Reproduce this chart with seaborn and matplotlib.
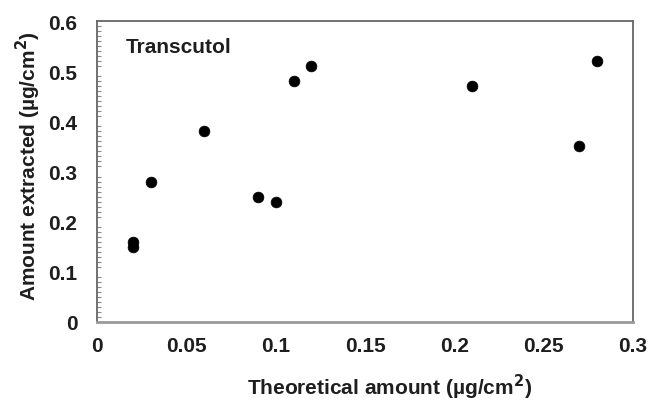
import matplotlib
matplotlib.use("Agg")
import matplotlib.pyplot as plt
from matplotlib.ticker import MultipleLocator
import seaborn as sns
import pandas as pd

# Theoretical vs. extracted amounts (µg/cm²), Transcutol
theoretical = [0.02, 0.02, 0.03, 0.06, 0.09, 0.10, 0.11, 0.12, 0.21, 0.27, 0.28]
extracted = [0.15, 0.16, 0.28, 0.38, 0.25, 0.24, 0.48, 0.51, 0.47, 0.35, 0.52]

x_ticks = [0, 0.05, 0.1, 0.15, 0.2, 0.25, 0.3]
x_tick_labels = ["0", "0.05", "0.1", "0.15", "0.2", "0.25", "0.3"]
y_ticks = [0, 0.1, 0.2, 0.3, 0.4, 0.5, 0.6]
y_tick_labels = ["0", "0.1", "0.2", "0.3", "0.4", "0.5", "0.6"]

df = pd.DataFrame({"theoretical": theoretical, "extracted": extracted})

sns.set_style("white")
plt.rcParams["font.family"] = ["Liberation Sans", "DejaVu Sans"]

FS = 15
TXT = "#1e1e1e"

fig = plt.figure(figsize=(6.54, 4.02), dpi=100)
ax = fig.add_axes([97 / 654, 1 - 323 / 402, 536 / 654, 301 / 402])

sns.scatterplot(data=df, x="theoretical", y="extracted", ax=ax,
                color="black", s=60, edgecolor="black", linewidth=0.5, zorder=3)

ax.set_xlim(0, 0.3)
ax.set_ylim(0, 0.6)
ax.set_xticks(x_ticks)
ax.set_xticklabels(x_tick_labels)
ax.set_yticks(y_ticks)
ax.set_yticklabels(y_tick_labels)
ax.yaxis.set_minor_locator(MultipleLocator(0.01))

for side in ["left", "bottom", "top", "right"]:
    ax.spines[side].set_color("#666666")
    ax.spines[side].set_linewidth(1.3)
ax.spines["bottom"].set_linewidth(2.0)
ax.spines["bottom"].set_color("#999999")

ax.tick_params(axis="x", which="major", direction="in", length=5, width=1,
               color="#777777", labelsize=FS, pad=10)
ax.tick_params(axis="y", which="major", direction="in", length=5, width=1,
               color="#777777", labelsize=FS, pad=14)
ax.tick_params(axis="y", which="minor", direction="in", length=3, width=0.8,
               color="#888888", left=True)
for lbl in ax.get_xticklabels() + ax.get_yticklabels():
    lbl.set_fontweight("bold")
    lbl.set_color(TXT)

ax.set_xlabel("Theoretical amount (µg/cm$^\\mathbf{2}$)", fontsize=FS,
              fontweight="bold", color=TXT)
ax.set_ylabel("Amount extracted (µg/cm$^\\mathbf{2}$)", fontsize=FS,
              fontweight="bold", color=TXT)
ax.xaxis.set_label_coords((390 - 97) / 536, -(387 - 323) / 301)
ax.yaxis.set_label_coords(-(97 - 28) / 536, (323 - 166) / 301)
ax.xaxis.label.set_va("center")
ax.yaxis.label.set_va("center")

ax.text(0.0162, 0.55, "Transcutol", fontsize=FS, fontweight="bold",
        color=TXT, va="center", ha="left")

fig.savefig("out.png", dpi=100, facecolor="white")
